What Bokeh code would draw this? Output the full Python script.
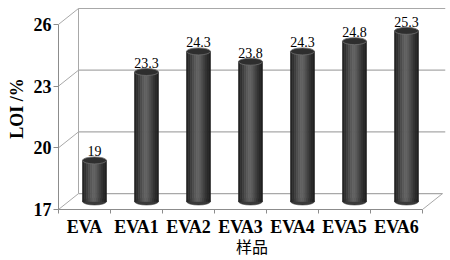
from bokeh.plotting import figure
from bokeh.models import FixedTicker, Range1d
from bokeh.core.properties import value
from bokeh.embed import file_html
from bokeh.resources import INLINE

# ---- data ----
categories = ["EVA", "EVA1", "EVA2", "EVA3", "EVA4", "EVA5", "EVA6"]
loi_values = [19.0, 23.3, 24.3, 23.8, 24.3, 24.8, 25.3]
y_ticks = [17, 20, 23, 26]
x_label = "样品"
y_label = "LOI /%"

# ---- geometry / style (pseudo 3D) ----
PX_X = 52.0            # pixels per category
PX_Y = 186.0 / 9.0     # pixels per LOI unit on front plane
DX_BACK = 20.0 / PX_X  # depth offset of back wall (x, data units)
DY_BACK = 16.0 / PX_Y  # depth offset of back wall (y, data units)
DX_MID = DX_BACK / 2
DY_MID = DY_BACK / 2
BAR_W = 24.0 / PX_X
FRAME_W = 387
FRAME_H = 203
Y0 = y_ticks[0]
n_cat = len(categories)

serif = "Liberation Serif"
wall_col = "#a8a8a8"
axis_col = "#8c8c8c"

p = figure(width=450, height=260, output_backend="svg", toolbar_location=None,
           x_range=Range1d(0, FRAME_W / PX_X),
           y_range=Range1d(Y0, Y0 + FRAME_H / PX_Y),
           min_border_left=58, min_border_right=5, min_border_top=7, min_border_bottom=50)
p.outline_line_color = None
p.grid.visible = False
p.background_fill_color = "white"
p.border_fill_color = "white"

# ---- walls ----
x_right = FRAME_W / PX_X
for t in y_ticks:
    p.line([0, DX_BACK], [t, t + DY_BACK], line_color=wall_col, line_width=1)
    end = x_right if t != Y0 else n_cat + DX_BACK
    p.line([DX_BACK, end], [t + DY_BACK, t + DY_BACK], line_color=wall_col, line_width=1.2)
p.line([DX_BACK, DX_BACK], [Y0 + DY_BACK, y_ticks[-1] + DY_BACK], line_color=wall_col, line_width=1)
p.line([n_cat, n_cat + DX_BACK], [Y0, Y0 + DY_BACK], line_color=wall_col, line_width=1)

# ---- cylinders ----
centers = [i + 0.5 + DX_MID for i in range(n_cat)]
tops = [v + DY_MID for v in loi_values]
base = Y0 + DY_MID
shades = ["#242424", "#303030", "#3e3e3e", "#4c4c4c", "#585858", "#606060",
          "#5c5c5c", "#505050", "#424242", "#343434", "#292929", "#202020"]
ns = len(shades)

p.ellipse(x=centers, y=[base] * n_cat, width=BAR_W, height=7, height_units="screen",
          fill_color="#3a3a3a", line_color="#2a2a2a", line_width=0.5)
for k, col in enumerate(shades):
    xs = [c - BAR_W / 2 + (k + 0.5) * BAR_W / ns for c in centers]
    p.vbar(x=xs, width=BAR_W / ns, bottom=base, top=tops,
           fill_color=col, line_color=col, line_width=0.6)
p.ellipse(x=centers, y=tops, width=BAR_W, height=7, height_units="screen",
          fill_color="#2e2e2e", line_color="#6e6e6e", line_width=0.8)

# ---- value labels ----
p.text(x=centers, y=tops, text=[f"{v:g}" for v in loi_values],
       text_align="center", text_baseline="bottom", y_offset=-4,
       text_font=value(serif), text_font_size="14px", text_color="black")

# ---- axes ----
xa = p.xaxis[0]
xa.ticker = FixedTicker(ticks=[i + 0.5 for i in range(n_cat)],
                        minor_ticks=list(range(n_cat + 1)))
xa.major_label_overrides = {i + 0.5: c for i, c in enumerate(categories)}
xa.bounds = (0, n_cat)
xa.axis_line_color = axis_col
xa.major_tick_line_color = None
xa.major_tick_out = 0
xa.major_tick_in = 0
xa.minor_tick_line_color = axis_col
xa.minor_tick_out = 4
xa.minor_tick_in = 0
xa.major_label_standoff = 3
xa.major_label_text_font = serif
xa.major_label_text_font_style = "bold"
xa.major_label_text_font_size = "18px"
xa.major_label_text_color = "black"
xa.axis_label = x_label
xa.axis_label_standoff = -6
xa.axis_label_text_font = "Noto Sans CJK SC"
xa.axis_label_text_font_style = "normal"
xa.axis_label_text_font_size = "16px"
xa.axis_label_text_color = "black"

ya = p.yaxis[0]
ya.ticker = FixedTicker(ticks=y_ticks, minor_ticks=[])
ya.bounds = (y_ticks[0], y_ticks[-1])
ya.axis_line_color = axis_col
ya.major_tick_line_color = axis_col
ya.major_tick_out = 5
ya.major_tick_in = 0
ya.minor_tick_line_color = None
ya.major_label_standoff = 2
ya.major_label_text_font = serif
ya.major_label_text_font_style = "bold"
ya.major_label_text_font_size = "18px"
ya.major_label_text_color = "black"
ya.axis_label = y_label
ya.axis_label_standoff = 4
ya.axis_label_text_font = serif
ya.axis_label_text_font_style = "bold"
ya.axis_label_text_font_size = "18px"
ya.axis_label_text_color = "black"

open("out.html", "w").write(file_html(p, INLINE))
